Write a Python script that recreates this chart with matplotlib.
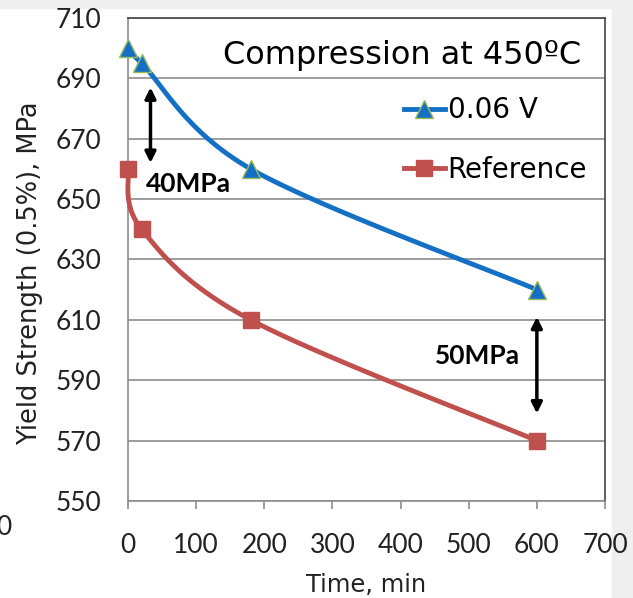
import numpy as np
import matplotlib
matplotlib.use("Agg")
import matplotlib.pyplot as plt
from matplotlib.patches import Rectangle

# data
time_min = [0, 20, 180, 600]
ys_006v = [700, 695, 660, 620]
ys_ref = [660, 640, 610, 570]

x_ticks = [0, 100, 200, 300, 400, 500, 600, 700]
y_ticks = [550, 570, 590, 610, 630, 650, 670, 690, 710]

gap_left = (33, 687, 662)    # x, top, bottom of the 40MPa arrow
gap_right = (600, 611, 579)  # x, top, bottom of the 50MPa arrow

BLUE = "#1470C4"
RED = "#C0504D"
num_font = "Lato"
lab_font = "DejaVu Sans"


# Excel style smoothed line: cubic bezier in screen space
def smooth(ax, xs, ys, n=40):
    pts = ax.transData.transform(np.column_stack([xs, ys]))
    p = np.vstack([pts[0], pts, pts[-1]])
    out = []
    for i in range(1, len(p) - 2):
        p0, p1, p2, p3 = p[i - 1], p[i], p[i + 1], p[i + 2]
        c1 = p1 + (p2 - p0) / 6
        c2 = p2 - (p3 - p1) / 6
        t = np.linspace(0, 1, n)[:, None]
        seg = (1 - t) ** 3 * p1 + 3 * (1 - t) ** 2 * t * c1 + 3 * (1 - t) * t ** 2 * c2 + t ** 3 * p2
        out.append(seg)
    out = np.vstack(out)
    d = ax.transData.inverted().transform(out)
    return d[:, 0], d[:, 1]


fig = plt.figure(figsize=(6.33, 5.98), dpi=100)
fig.patches.append(Rectangle((0, 1 - 8 / 598), 1, 8 / 598, transform=fig.transFigure,
                             color="#EFEFEF", zorder=-10))
fig.patches.append(Rectangle((612 / 633, 0), 21 / 633, 1, transform=fig.transFigure,
                             color="#EFEFEF", zorder=-10))

ax = fig.add_axes([128 / 633, 97 / 598, 477 / 633, 483 / 598])
ax.set_xlim(0, 700)
ax.set_ylim(550, 710)
ax.set_xticks(x_ticks)
ax.set_yticks(y_ticks)
ax.grid(axis="y", color="#8C8C8C", lw=1.2)
ax.set_axisbelow(True)

for s in ["left", "bottom"]:
    ax.spines[s].set_color("#8C8C8C")
    ax.spines[s].set_linewidth(1.2)
for s in ["top", "right"]:
    ax.spines[s].set_color("#444444")
    ax.spines[s].set_linewidth(1.2)

ax.tick_params(axis="x", length=6, width=1.2, color="#8C8C8C", pad=17, labelsize=19)
ax.tick_params(axis="y", length=0, pad=19, labelsize=19)
for lab in ax.get_xticklabels() + ax.get_yticklabels():
    lab.set_family(num_font)
    lab.set_color("#222222")

ax.set_xlabel("Time, min", fontsize=17.4, family=lab_font, labelpad=11, color="#222222")
ax.set_ylabel("Yield Strength (0.5%), MPa", fontsize=18.5, family=lab_font,
              color="#222222")
ax.yaxis.set_label_coords(-0.178, 0.472)

sx, sy = smooth(ax, time_min, ys_006v)
ax.plot(sx, sy, color=BLUE, lw=3.5, zorder=3, clip_on=False)
ax.plot(time_min, ys_006v, ls="none", marker="^", ms=13, mfc=BLUE, mec="#9BBB59",
        mew=1, zorder=4, clip_on=False)
sx, sy = smooth(ax, time_min, ys_ref)
ax.plot(sx, sy, color=RED, lw=3.5, zorder=3, clip_on=False)
ax.plot(time_min, ys_ref, ls="none", marker="s", ms=12, mfc=RED, mec=RED,
        zorder=4, clip_on=False)

# legend built from proxy handles
h1, = ax.plot([], [], color=BLUE, lw=3.5, marker="^", ms=13, mfc=BLUE, mec="#9BBB59")
h2, = ax.plot([], [], color=RED, lw=3.5, marker="s", ms=12, mfc=RED, mec=RED)
leg = ax.legend([h1, h2], ["0.06 V", "Reference"], loc="upper left",
                bbox_to_anchor=(276 / 477, 0.838), frameon=False,
                borderpad=0, borderaxespad=0,
                handlelength=1.47, handletextpad=0.1, labelspacing=1.13,
                prop={"family": "DejaVu Sans", "size": 20})

ax.text(0.95, 0.922, "Compression at 450ºC", transform=ax.transAxes, ha="right",
        va="center", fontsize=23)

for (x, top, bot) in [gap_left, gap_right]:
    ax.annotate("", xy=(x, top), xytext=(x, bot),
                arrowprops=dict(arrowstyle="<|-|>", color="black", lw=2.5,
                                mutation_scale=16, shrinkA=0, shrinkB=0))

ax.text(gap_left[0] - 7, 655, "40MPa", fontsize=19, fontweight="bold", family=num_font,
        ha="left", va="center")
ax.text(gap_right[0] - 25, 598, "50MPa", fontsize=19, fontweight="bold", family=num_font,
        ha="right", va="center")

fig.text(-0.006, 0.105, "0", fontsize=19, family=num_font, color="#222222")

fig.savefig("out.png", dpi=100)
